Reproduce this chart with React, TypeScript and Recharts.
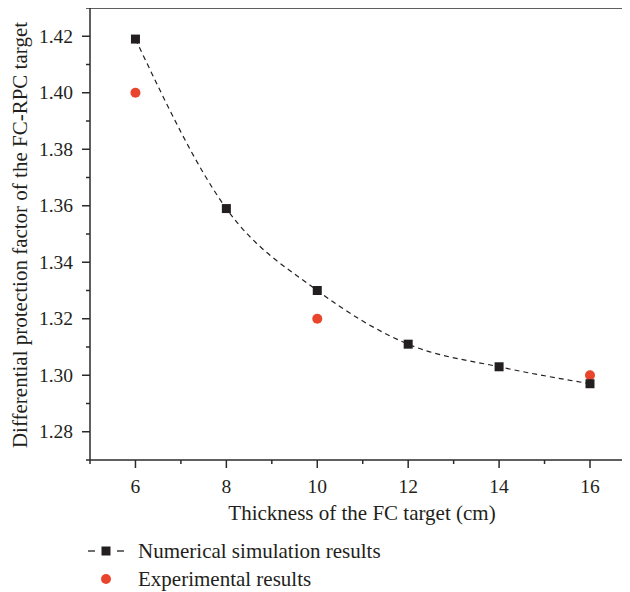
import React from "react";
import { ComposedChart, XAxis, YAxis, Line, Scatter, ReferenceLine, Legend, Label } from "recharts";

const thickness = [6, 8, 10, 12, 14, 16];
const simulationValues = [1.419, 1.359, 1.33, 1.311, 1.303, 1.297];
const expThickness = [6, 10, 16];
const experimentalValues = [1.4, 1.32, 1.3];
const xTicks = [5, 6, 7, 8, 9, 10, 11, 12, 13, 14, 15, 16];
const yTicks = [1.27, 1.28, 1.29, 1.3, 1.31, 1.32, 1.33, 1.34, 1.35, 1.36, 1.37, 1.38, 1.39, 1.4, 1.41, 1.42, 1.43];

const simData = thickness.map((x, i) => ({ x, y: simulationValues[i] }));
const expData = expThickness.map((x, i) => ({ x, y: experimentalValues[i] }));

const FONT = "'Liberation Serif', 'DejaVu Serif', serif";
const AXIS = "#2b2b2b";
const BLACK = "#231f20";
const RED = "#e9452c";

const XTick = (props: any) => {
  const { x, y, payload } = props;
  const v = payload.value;
  const major = v % 2 === 0;
  return (
    <g>
      <line x1={x} x2={x} y1={y} y2={y + (major ? 8 : 4)} stroke={AXIS} strokeWidth={1.5} />
      {major && (
        <text x={x} y={y + 33} textAnchor="middle" fontFamily={FONT} fontSize={19.5} fill="#231f20">
          {v}
        </text>
      )}
    </g>
  );
};

const YTick = (props: any) => {
  const { x, y, payload } = props;
  const v = payload.value;
  const major = Math.round(v * 100) % 2 === 0;
  return (
    <g>
      <line x1={x} x2={x - (major ? 8 : 4)} y1={y} y2={y} stroke={AXIS} strokeWidth={1.5} />
      {major && (
        <text x={x - 17} y={y + 6.5} textAnchor="end" fontFamily={FONT} fontSize={19.5} fill="#231f20">
          {v.toFixed(2)}
        </text>
      )}
    </g>
  );
};

const SquareDot = (props: any) => {
  const { cx, cy } = props;
  if (cx == null || cy == null) return null;
  return <rect x={cx - 4.5} y={cy - 4.5} width={9} height={9} fill={BLACK} />;
};

const CircleShape = (props: any) => {
  const { cx, cy } = props;
  return <circle cx={cx} cy={cy} r={5} fill={RED} />;
};

const LegendContent = () => (
  <div style={{ fontFamily: FONT, fontSize: 21, color: "#231f20", lineHeight: "28px" }}>
    <div style={{ display: "flex", alignItems: "center" }}>
      <svg width={52} height={28}>
        <line x1={2} x2={9} y1={14} y2={14} stroke={BLACK} strokeWidth={1.3} />
        <line x1={31} x2={38} y1={14} y2={14} stroke={BLACK} strokeWidth={1.3} />
        <rect x={15.5} y={9.5} width={9} height={9} fill={BLACK} />
      </svg>
      <span>Numerical simulation results</span>
    </div>
    <div style={{ display: "flex", alignItems: "center" }}>
      <svg width={52} height={28}>
        <circle cx={20} cy={14} r={5} fill={RED} />
      </svg>
      <span>Experimental results</span>
    </div>
  </div>
);

export default function App() {
  return (
    <div style={{ marginLeft: -8, marginTop: -8 }}>
      <ComposedChart width={630} height={592} margin={{ top: 8, right: 0, left: 0, bottom: 0 }}>
        <XAxis
          dataKey="x"
          type="number"
          domain={[5, 16.88]}
          ticks={xTicks}
          interval={0}
          allowDataOverflow
          height={132}
          tickSize={0}
          tickMargin={0}
          tickLine={false}
          axisLine={{ stroke: AXIS, strokeWidth: 1.5 }}
          tick={<XTick />}
        >
          <Label
            content={() => (
              <text x={362} y={520} textAnchor="middle" fontFamily={FONT} fontSize={21} fill="#231f20">
                Thickness of the FC target (cm)
              </text>
            )}
          />
        </XAxis>
        <YAxis
          dataKey="y"
          type="number"
          domain={[1.27, 1.43]}
          ticks={yTicks}
          interval={0}
          allowDataOverflow
          width={90}
          tickSize={0}
          tickMargin={0}
          tickLine={false}
          axisLine={{ stroke: AXIS, strokeWidth: 1.5 }}
          tick={<YTick />}
        >
          <Label
            content={() => (
              <text
                x={27}
                y={235}
                textAnchor="middle"
                transform="rotate(-90 27 235)"
                fontFamily={FONT}
                fontSize={21}
                fill="#231f20"
              >
                Differential protection factor of the FC-RPC target
              </text>
            )}
          />
        </YAxis>
        <ReferenceLine y={1.43} stroke={AXIS} strokeWidth={1.5} />
        <Scatter data={expData} dataKey="y" shape={<CircleShape />} isAnimationActive={false} legendType="circle" />
        <Line
          data={simData}
          dataKey="y"
          type="monotone"
          stroke={BLACK}
          strokeWidth={1.2}
          strokeDasharray="5 4"
          dot={<SquareDot />}
          activeDot={false}
          isAnimationActive={false}
        />
        <Legend
          layout="horizontal"
          verticalAlign="middle"
          align="center"
          content={<LegendContent />}
          wrapperStyle={{ top: 537, left: 86, width: 420 }}
        />
      </ComposedChart>
    </div>
  );
}
